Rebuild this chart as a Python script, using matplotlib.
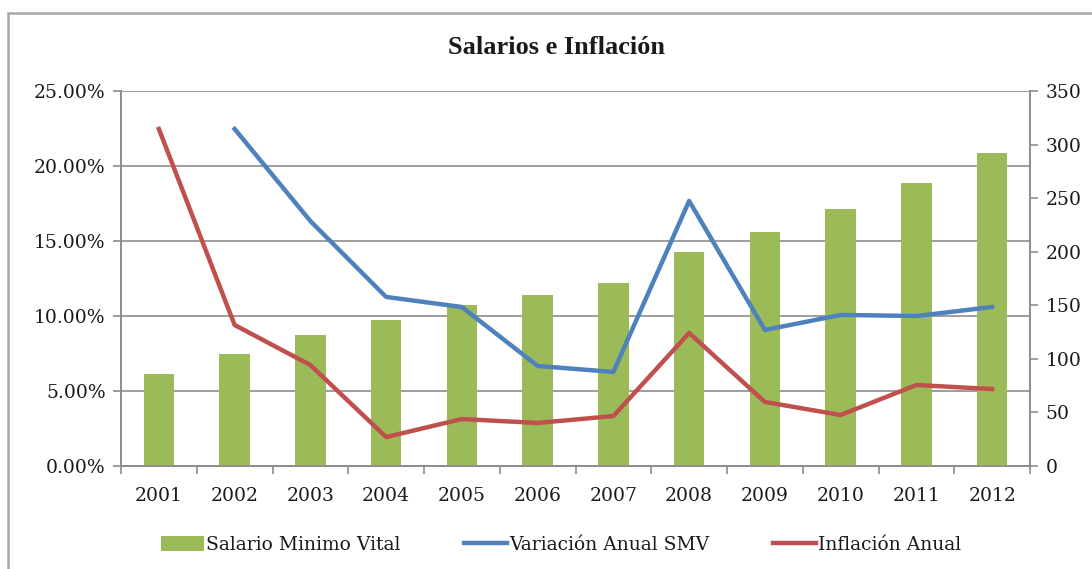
import matplotlib
matplotlib.use("Agg")
import matplotlib.pyplot as plt
from matplotlib.patches import Rectangle, Patch
from matplotlib.lines import Line2D
from matplotlib.ticker import FuncFormatter, MultipleLocator, FixedLocator
import numpy as np

years = ["2001", "2002", "2003", "2004", "2005", "2006",
         "2007", "2008", "2009", "2010", "2011", "2012"]
salario = [86, 105, 122, 136, 150, 160, 171, 200, 218, 240, 264, 292]
variacion = [None, 22.47, 16.33, 11.27, 10.6, 6.67, 6.27, 17.67, 9.07, 10.07, 10.0, 10.6]
inflacion = [22.47, 9.4, 6.73, 1.93, 3.13, 2.87, 3.33, 8.87, 4.27, 3.4, 5.4, 5.13]

title = "Salarios e Inflación"
labels = ["Salario Minimo Vital", "Variación Anual SMV", "Inflación Anual"]

GREEN = "#9BBB59"
BLUE = "#4F81BD"
RED = "#C0504D"
GRID = "#8C8C8C"
TEXT = "#1A1A1A"

plt.rcParams['font.family'] = ['DejaVu Serif', 'Liberation Serif']
plt.rcParams['text.color'] = TEXT
TICK_FS = 13.5

W, H = 1092, 569
fig = plt.figure(figsize=(W / 100, H / 100), dpi=100)

# outer chart frame (cropped on right/bottom)
fig.patches.append(Rectangle((8 / W, -0.05), 1.2, 1 - 13 / H + 0.05,
                             transform=fig.transFigure, fill=False,
                             edgecolor="#A6A6A6", linewidth=1.8))

left, right = 121 / W, 1030 / W
bottom, top = 1 - 466 / H, 1 - 91 / H
ax1 = fig.add_axes([left, bottom, right - left, top - bottom])
ax2 = ax1.twinx()
ax3 = ax1.twinx()

x = np.arange(len(years))
ax1.set_zorder(0)
ax2.set_zorder(1)
ax3.set_zorder(2)
ax2.patch.set_visible(False)
ax3.patch.set_visible(False)

# left axis (percent) with gridlines
ax1.set_ylim(0, 25)
ax1.yaxis.set_major_locator(MultipleLocator(5))
ax1.yaxis.set_major_formatter(FuncFormatter(lambda v, p: f"{v:.2f}%"))
ax1.grid(axis="y", color=GRID, linewidth=1.2)
ax1.set_axisbelow(True)
ax1.set_xlim(-0.5, len(years) - 0.5)
ax1.set_xticks(x)
ax1.set_xticklabels(years)
ax1.xaxis.set_minor_locator(FixedLocator(np.arange(-0.5, len(years), 1.0)))
ax1.tick_params(axis="x", which="major", length=0, pad=15, labelsize=TICK_FS, labelcolor=TEXT)
ax1.tick_params(axis="x", which="minor", length=6, color=GRID, width=1.2)
ax1.tick_params(axis="y", length=6, color=GRID, width=1.2, labelsize=TICK_FS, pad=5, labelcolor=TEXT)

# right axis: bars
ax2.bar(x, salario, width=0.4, color=GREEN, zorder=2)
ax2.set_ylim(0, 350)
ax2.yaxis.set_major_locator(MultipleLocator(50))
ax2.tick_params(axis="y", length=6, color=GRID, width=1.2, labelsize=TICK_FS, pad=5, labelcolor=TEXT)

# lines on top (left scale)
var_arr = np.array([np.nan if v is None else v for v in variacion], dtype=float)
ax3.plot(x, var_arr, color=BLUE, linewidth=3.2, solid_joinstyle="round")
ax3.plot(x, inflacion, color=RED, linewidth=3.2, solid_joinstyle="round")
ax3.set_ylim(0, 25)
ax3.set_yticks([])
ax3.tick_params(axis="y", length=0)

for a in (ax1, ax2, ax3):
    a.spines["top"].set_visible(False)
    for s in ("left", "right", "bottom"):
        a.spines[s].set_color(GRID)
        a.spines[s].set_linewidth(1.2)
for s in ("left", "right", "bottom"):
    ax3.spines[s].set_visible(False)

fig.text(556 / W, 1 - 48 / H, title, ha="center", va="center",
         fontsize=19, fontweight="bold", family=["Liberation Serif", "DejaVu Serif"])

handles = [Patch(facecolor=GREEN, edgecolor="none"),
           Line2D([0], [0], color=BLUE, linewidth=3.2),
           Line2D([0], [0], color=RED, linewidth=3.2)]
fig.legend(handles, labels, loc="center", bbox_to_anchor=(561 / W, 1 - 545 / H),
           ncol=3, frameon=False, fontsize=TICK_FS, handlelength=2.3,
           handleheight=0.9, handletextpad=0.1, columnspacing=3.4)

fig.savefig("out.png", dpi=100)
